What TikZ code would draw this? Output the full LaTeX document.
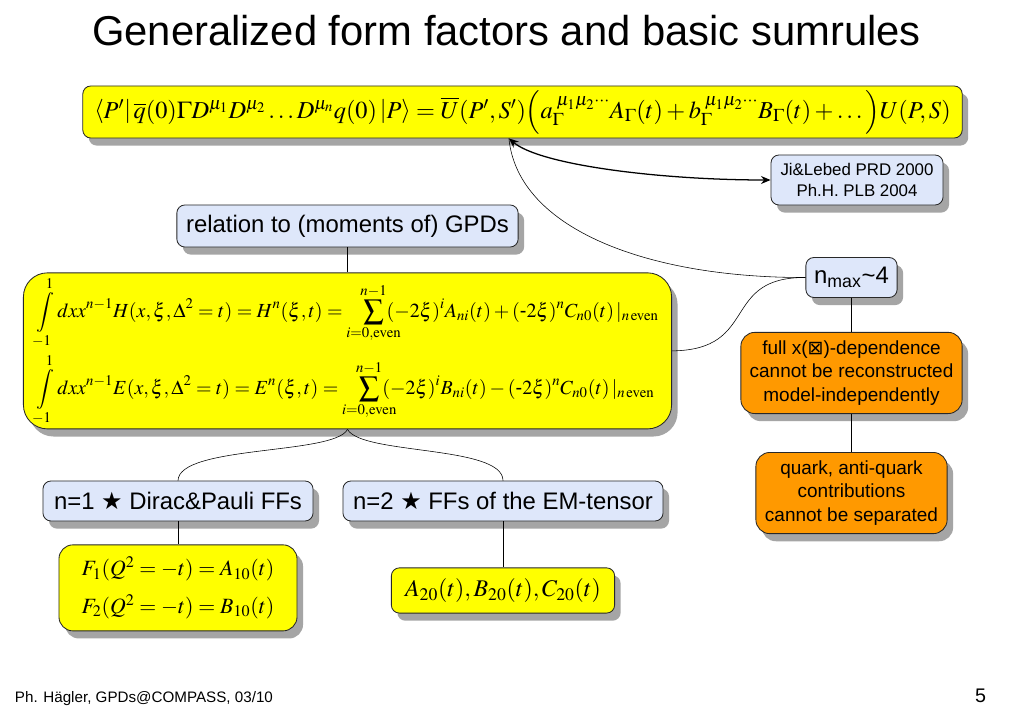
\documentclass[tikz,border=0pt]{standalone}
\usepackage{mathptmx}
\usepackage[no-math]{fontspec}
\setmainfont{Liberation Sans}
\newfontfamily\symbolfont{DejaVu Sans}
\usepackage{xcolor}
\usetikzlibrary{arrows.meta}
\usetikzlibrary{positioning}
\usetikzlibrary{shadows}

\definecolor{gelb}{RGB}{255,255,0}
\definecolor{hellblau}{RGB}{222,231,250}
\definecolor{orangebox}{RGB}{255,153,0}
\definecolor{rahmen}{RGB}{40,40,40}
\definecolor{schatten}{RGB}{165,165,165}

\begin{document}
\begin{tikzpicture}
    [x=0.025cm, y=-0.025cm,
      % Schatten unter allen Kästen
      schattig/.style={drop shadow={shadow xshift=0.15cm, shadow yshift=-0.19cm, fill=schatten, opacity=1}},
      % Stil für Formeln
      formel/.style={rectangle, rounded corners=0.2cm, fill=gelb, draw=rahmen, line width=0.6pt, inner sep=0pt, schattig},
      % Stil für Stichworte
      stich/.style={rectangle, rounded corners=0.2cm, fill=hellblau, draw=rahmen, line width=0.6pt, inner sep=0pt, schattig, font=\fontsize{17}{20}\selectfont},
      % Stil für Einschränkungen
      grenze/.style={rectangle, rounded corners=0.35cm, fill=orangebox, draw=rahmen, line width=0.6pt, inner sep=0pt, schattig, align=center, font=\fontsize{13.5}{16.5}\selectfont},
      node distance=0.6cm, >={Stealth[length=2.4mm, width=2mm]}]
    \path[use as bounding box, fill=white] (0,0) rectangle (1023,708);

    % Titel
    \node[anchor=base, font=\fontsize{29.7}{34}\selectfont] (titel) at (506.5,46) {Generalized form factors and basic sumrules};

    % Knoten
    \node[formel, minimum width=21.98cm, minimum height=1.3cm, font=\fontsize{17.3}{21}\selectfont] (element) at (522.5,112)
      {$\left\langle P'\middle|\,\overline{q}(0)\Gamma D^{\mu_1}D^{\mu_2}\ldots D^{\mu_n}q(0)\,\middle|P\right\rangle=\overline{U}(P',S')\Big(a_\Gamma^{\;\mu_1\mu_2\cdots}A_\Gamma(t)+b_\Gamma^{\;\mu_1\mu_2\cdots}B_\Gamma(t)+\ldots\Big)U(P,S)$};
    \node[stich, minimum width=4.3cm, minimum height=1.25cm, align=center, font=\fontsize{12}{15}\selectfont] (ji) at (857,180) {Ji\&Lebed PRD 2000\\Ph.H. PLB 2004};
    \node[stich, minimum width=8.53cm, minimum height=1.05cm] (rel) at (347.5,226) {relation to (moments of) GPDs};
    \node[formel, rounded corners=0.6cm, minimum width=16.2cm, minimum height=3.9cm, align=left, font=\fontsize{14.2}{17}\selectfont, below=0.625cm of rel] (gpd)
      {$\displaystyle\int\limits_{-1}^{1}dxx^{n-1}H(x,\xi,\Delta^2=t)=H^n(\xi,t)=\;\;\;\sum_{\makebox[0pt]{$\scriptstyle i=0,\mathrm{even}$}}^{n-1}(-2\xi)^iA_{ni}(t)+(\mbox{-}2\xi)^nC_{n0}(t)\,|_{n\,\mathrm{even}}$\\[0.08cm]
       $\displaystyle\int\limits_{-1}^{1}dxx^{n-1}E(x,\xi,\Delta^2=t)={}E^n(\xi,t)=\;\;\;\sum_{\makebox[0pt]{$\scriptstyle i=0,\mathrm{even}$}}^{n-1}(-2\xi)^iB_{ni}(t)-(\mbox{-}2\xi)^nC_{n0}(t)\,|_{n\,\mathrm{even}}$};
    \node[stich, minimum width=2.28cm, minimum height=1.0cm] (nmax) at (851.5,277.5) {n\textsubscript{max}\textasciitilde4};
    \node[grenze, minimum width=5.53cm, minimum height=2.03cm, below=0.85cm of nmax] (dep) {full x({\symbolfont ⊠})-dependence\\cannot be reconstructed\\model-independently};
    \node[grenze, minimum width=4.78cm, minimum height=2.03cm, below=0.95cm of dep] (quark) {quark, anti-quark\\contributions\\cannot be separated};
    \node[stich, minimum width=6.75cm, minimum height=1.0cm] (n1) at (178,501) {n=1 {\symbolfont ★} Dirac\&Pauli FFs};
    \node[stich, minimum width=8.0cm, minimum height=1.0cm] (n2) at (503,501) {n=2 {\symbolfont ★} FFs of the EM-tensor};
    \node[formel, rounded corners=0.35cm, minimum width=5.95cm, minimum height=2.15cm, align=left, font=\fontsize{15.5}{18}\selectfont, below=0.575cm of n1] (fdirac)
      {$F_1(Q^2=-t)=A_{10}(t)$\\[0.3cm]$F_2(Q^2=-t)=B_{10}(t)$};
    \node[formel, minimum width=5.58cm, minimum height=1.13cm, font=\fontsize{17}{20}\selectfont, below=1.15cm of n2] (fem)
      {$A_{20}(t),B_{20}(t),C_{20}(t)$};
    \coordinate (spitze) at ([xshift=-0.34cm]element.south);

    % Fußzeile
    \node[anchor=base west, font=\fontsize{10.8}{13}\selectfont] (fuss) at (10,702) {Ph. Hägler, GPDs@COMPASS, 03/10};
    \node[anchor=base east, font=\fontsize{14}{16}\selectfont] (seite) at (991,702) {5};

    % Kanten
    \path
      (rel) edge (gpd)
      (nmax) edge (dep)
      (dep) edge (quark)
      (n1) edge (fdirac)
      (n2) edge (fem);
    \draw[<->, line width=0.9pt] (spitze) .. controls (540,165) and (660,180) .. (ji.west);
    \draw (spitze) .. controls (518,230) and (650,278) .. (nmax.west);
    \draw (nmax.west) .. controls (720,277) and (760,350) .. (gpd.east);
    \draw (gpd.south) .. controls (335,455) and (179,445) .. (n1.north);
    \draw (gpd.south) .. controls (361,455) and (503,445) .. (n2.north);
  \end{tikzpicture}
\end{document}
